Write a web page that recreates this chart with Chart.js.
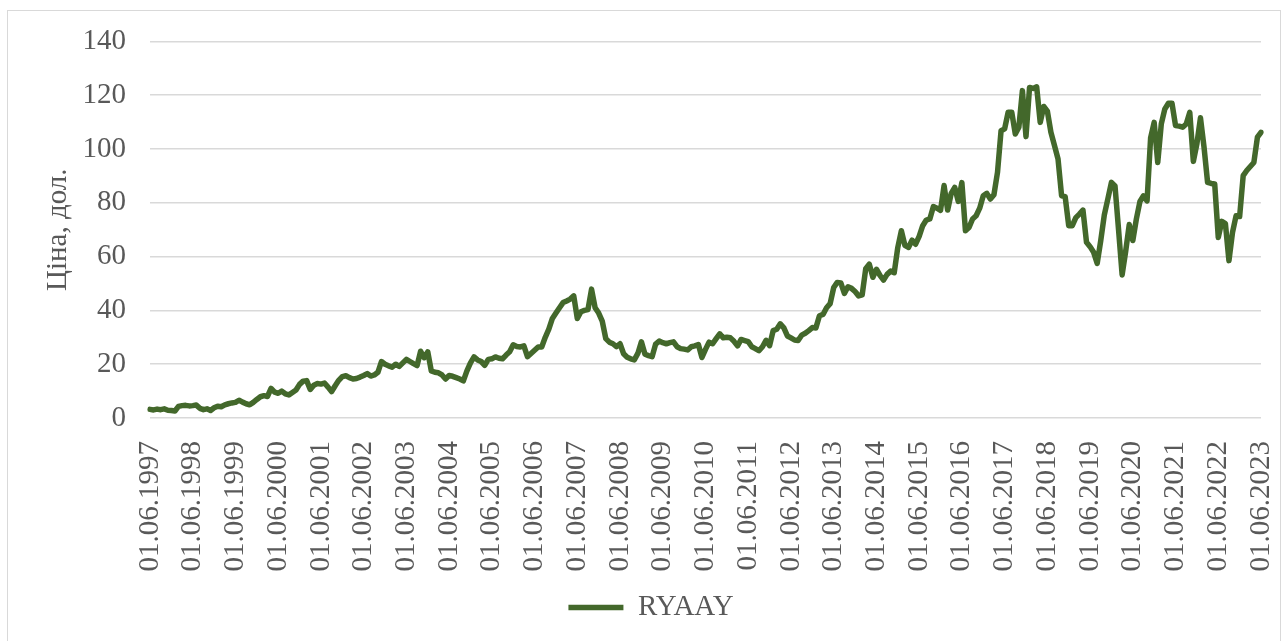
<!DOCTYPE html>
<html>
<head>
<meta charset="utf-8">
<script src="https://cdn.jsdelivr.net/npm/chart.js@4/dist/chart.umd.min.js"></script>
<style>
    html, body { margin: 0; padding: 0; background: #fff; }
    #wrap { position: relative; width: 1282px; height: 641px; }
    #frame { position: absolute; left: 7px; top: 10px; width: 1272px; height: 640px; border: 1px solid #d9d9d9; pointer-events: none; }
</style>
</head>
<body>
<div id="wrap">
    <canvas id="chartRyaay" width="1282" height="641"></canvas>
    <div id="frame"></div>
</div>
<script>
// Tick labels shown on the x axis (one per year, June)
const tickLabels = ['01.06.1997', '01.06.1998', '01.06.1999', '01.06.2000', '01.06.2001', '01.06.2002',
    '01.06.2003', '01.06.2004', '01.06.2005', '01.06.2006', '01.06.2007', '01.06.2008', '01.06.2009',
    '01.06.2010', '01.06.2011', '01.06.2012', '01.06.2013', '01.06.2014', '01.06.2015', '01.06.2016',
    '01.06.2017', '01.06.2018', '01.06.2019', '01.06.2020', '01.06.2021', '01.06.2022', '01.06.2023'];

// Monthly close, June 1997 .. June 2023 (one row per year, starting in June)
const prices = [
    3.2, 3.0, 3.3, 3.1, 3.4, 2.9, 2.8, 2.6, 4.3, 4.6, 4.7, 4.5,
    4.6, 4.8, 3.6, 3.1, 3.4, 2.8, 3.8, 4.4, 4.2, 4.9, 5.3, 5.6,
    5.8, 6.6, 5.9, 5.3, 4.9, 5.8, 6.9, 7.9, 8.3, 8.0, 11.0, 9.6,
    9.2, 10.0, 9.0, 8.6, 9.5, 10.4, 12.5, 13.7, 13.9, 10.6, 12.2, 12.8,
    12.6, 13.0, 11.5, 9.8, 12.0, 14.0, 15.4, 15.7, 15.0, 14.5, 14.7, 15.2,
    15.8, 16.5, 15.6, 16.0, 17.0, 21.0, 20.0, 19.4, 18.9, 20.0, 19.2, 20.5,
    21.8, 21.0, 20.2, 19.5, 24.8, 22.4, 24.6, 17.5, 17.0, 16.8, 16.0, 14.5,
    15.8, 15.5, 15.0, 14.5, 13.8, 17.5, 20.5, 22.7, 21.6, 21.0, 19.6, 21.8,
    22.0, 22.7, 22.2, 22.0, 23.4, 24.6, 27.2, 26.6, 26.4, 26.8, 22.8, 24.0,
    25.2, 26.4, 26.4, 30.0, 33.0, 37.0, 39.0, 41.0, 42.9, 43.5, 44.2, 45.4,
    37.0, 39.5, 40.0, 40.3, 47.9, 41.0, 39.0, 36.0, 29.5, 28.2, 27.6, 26.5,
    27.6, 23.9, 22.6, 22.0, 21.6, 24.0, 28.3, 23.7, 23.2, 22.8, 27.5, 28.6,
    28.0, 27.6, 28.0, 28.3, 26.5, 25.8, 25.6, 25.3, 26.5, 26.8, 27.3, 22.5,
    25.5, 28.2, 27.6, 29.5, 31.3, 29.8, 30.0, 29.8, 28.5, 26.8, 29.2, 28.8,
    28.4, 26.5, 25.8, 25.0, 26.5, 28.9, 26.9, 32.5, 33.0, 35.0, 33.5, 30.5,
    29.8, 29.0, 28.8, 30.8, 31.5, 32.5, 33.6, 33.5, 38.0, 38.5, 41.0, 42.5,
    48.5, 50.4, 50.2, 46.3, 48.8, 48.2, 47.0, 45.4, 45.8, 55.5, 57.2, 52.3,
    55.3, 53.0, 51.3, 53.4, 54.6, 54.0, 63.4, 69.6, 64.2, 63.4, 66.1, 64.6,
    67.5, 71.5, 73.6, 74.0, 78.6, 78.0, 77.2, 86.4, 77.3, 83.5, 85.7, 80.5,
    87.5, 69.6, 70.8, 74.0, 75.2, 78.0, 82.6, 83.5, 81.4, 83.0, 91.3, 106.8,
    107.5, 113.7, 113.7, 105.6, 108.1, 121.7, 104.6, 122.9, 122.5, 123.1, 109.9, 115.8,
    114.1, 106.2, 101.3, 96.3, 82.6, 82.3, 71.5, 71.5, 74.5, 75.8, 77.3, 65.3,
    63.7, 61.6, 57.5, 66.0, 75.5, 81.5, 87.6, 86.3, 70.0, 53.2, 62.0, 71.9,
    66.0, 74.0, 80.5, 82.6, 80.7, 104.1, 109.9, 95.0, 109.3, 114.9, 117.0, 117.0,
    108.7, 108.5, 108.1, 109.3, 113.6, 95.4, 102.0, 111.6, 100.7, 87.6, 87.2, 87.0,
    67.1, 73.1, 72.3, 58.5, 69.0, 75.2, 74.9, 90.1, 92.0, 93.5, 95.0, 104.4,
    106.2
];

const yTicks = [0, 20, 40, 60, 80, 100, 120, 140];
const seriesName = 'RYAAY';
const yTitle = 'Ціна, дол.';

// one category per month, only June gets a visible label
const months = prices.map((v, i) => (i % 12 === 0 ? tickLabels[i / 12] : ''));

const TEXT = '#595959';
const GREEN = '#43682b';
const FONT = { family: '"Liberation Serif", "Times New Roman", serif', size: 29 };

new Chart(document.getElementById('chartRyaay'), {
    type: 'line',
    data: {
        labels: months,
        datasets: [{
            label: seriesName,
            data: prices,
            borderColor: GREEN,
            backgroundColor: GREEN,
            borderWidth: 5.5,
            borderJoinStyle: 'round',
            borderCapStyle: 'round',
            pointRadius: 0,
            pointStyle: 'line',
            tension: 0
        }]
    },
    options: {
        responsive: false,
        animation: false,
        layout: { padding: { left: 41, top: 41, right: 21, bottom: 9 } },
        plugins: {
            tooltip: { enabled: false },
            legend: {
                position: 'bottom',
                labels: {
                    color: TEXT,
                    font: FONT,
                    usePointStyle: true,
                    pointStyleWidth: 55,
                    padding: 10
                }
            }
        },
        scales: {
            x: {
                grid: { display: false },
                border: { display: false },
                ticks: {
                    autoSkip: false,
                    maxRotation: 90,
                    minRotation: 90,
                    padding: 15,
                    color: TEXT,
                    font: FONT,
                    callback: (val, idx) => months[idx]
                },
                afterFit: (s) => {
                    s.height = 165;
                    // let the plot run right up to the layout padding
                    s.paddingLeft = 0;
                    s.paddingRight = 0;
                }
            },
            y: {
                min: yTicks[0],
                max: yTicks[yTicks.length - 1],
                border: { display: false },
                grid: { color: '#d9d9d9', lineWidth: 1.5, drawTicks: false },
                ticks: {
                    stepSize: yTicks[1] - yTicks[0],
                    padding: 24,
                    color: TEXT,
                    font: FONT
                },
                title: {
                    display: true,
                    text: yTitle,
                    color: TEXT,
                    font: FONT,
                    padding: 0
                },
                afterFit: (s) => { s.width = 109; }
            }
        }
    }
});
</script>
</body>
</html>
